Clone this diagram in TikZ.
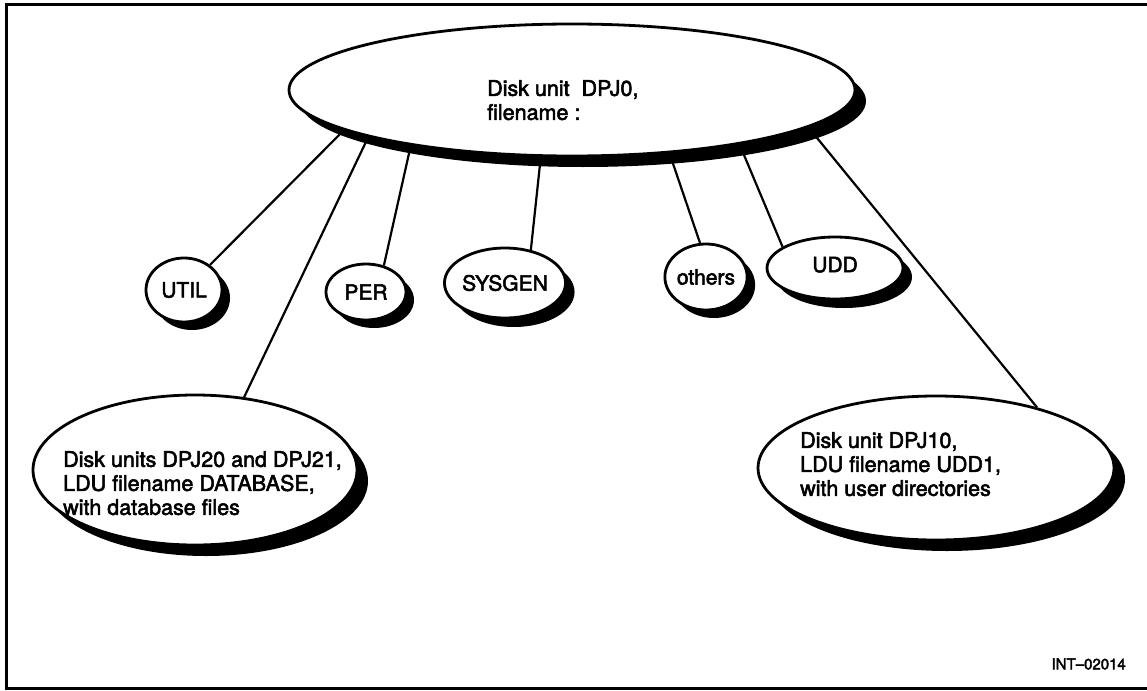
\documentclass[tikz,border=0pt]{standalone}
\usepackage{fontspec}
\setmainfont[FakeBold=2.5]{TeX Gyre Heros}
\usetikzlibrary{shapes.geometric,shadows}
\pgfdeclarelayer{background}
\pgfsetlayers{background,main}
\begin{document}
\begin{tikzpicture}[x=1pt,y=-1pt,
  disk/.style={ellipse, draw, line width=2.8pt, fill=white, inner sep=0pt,
    font=\fontsize{21}{24}\selectfont,
    drop shadow={shadow xshift=#1, shadow yshift=-#1, opacity=1, fill=black}},
  disk/.default=8pt,
  txt/.style={inner sep=0pt, align=left, font=\fontsize{21.5}{24}\selectfont},
  conn/.style={line width=2.2pt},
  frame/.style={line width=3pt}]
\useasboundingbox (0,0) rectangle (1147,690);
% frame
\coordinate (ftr) at (1147,5);
\coordinate (ftl) at (6,5);
\coordinate (fbl) at (6,690);
\coordinate (fb1) at (6,688);
\coordinate (fb2) at (1147,688);
\draw[frame] (ftr) -- (ftl) -- (fbl);
\draw[frame] (fb1) -- (fb2);
% disks
\node[disk=11pt, minimum width=566pt, minimum height=132pt] (top) at (572,90) {};
\node[txt, anchor=north west] (toptext) at (487,80) {Disk unit\ \ DPJ0,\\filename :};
\node[disk, minimum width=76pt, minimum height=64pt] (util) at (184,290) {UTIL};
\node[disk, minimum width=80pt, minimum height=56pt] (per) at (366,292) {PER};
\node[disk=9pt, minimum width=120pt, minimum height=70pt] (sysgen) at (505,283) {SYSGEN};
\node[disk, minimum width=76pt, minimum height=66pt] (others) at (706,277) {others};
\node[disk=9pt, minimum width=136pt, minimum height=62pt] (udd) at (835,268) {\raisebox{7pt}{UDD}};
\node[disk=11pt, minimum width=324pt, minimum height=150pt] (db) at (195,470) {};
\node[txt, anchor=north west] (dbtext) at (63,451) {Disk units DPJ20 and DPJ21,\\LDU filename DATABASE,\\with database files};
\node[disk=11pt, minimum width=356pt, minimum height=144pt] (ud) at (936,468) {};
\node[txt, anchor=north west] (udtext) at (800,432) {Disk unit DPJ10,\\LDU filename UDD1,\\with user directories};
\node[inner sep=0pt, anchor=east, font=\fontsize{15}{16}\selectfont] (code) at (1126,664) {INT--02014};
% connectors
\begin{pgfonlayer}{background}
\draw[conn] (top.190) -- (util.44);
\draw[conn] (top.193) -- (db.56);
\draw[conn] (top.199) -- (per.56);
\draw[conn] (top.245) -- (sysgen.52);
\draw[conn] (top.327) -- (others.100);
\draw[conn] (top.342) -- (udd.158);
\draw[conn] (top.351) -- (ud.31);
\end{pgfonlayer}
\end{tikzpicture}
\end{document}
